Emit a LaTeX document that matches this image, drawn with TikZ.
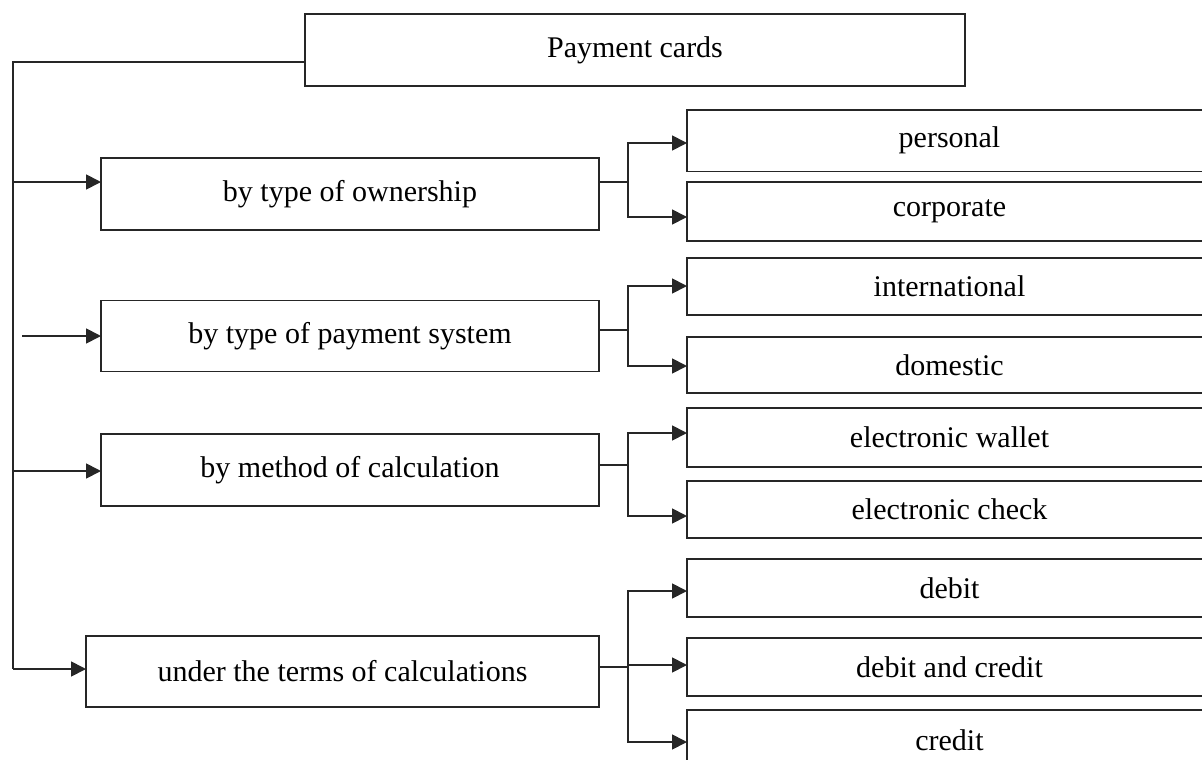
\documentclass[tikz,border=0pt]{standalone}
\usepackage{fontspec}
\setmainfont{Liberation Serif}
\usetikzlibrary{arrows.meta}
\begin{document}
\begin{tikzpicture}[x=1pt,y=-1pt,
  box/.style={draw=black!85,line width=1.8pt,inner sep=0pt,outer sep=0pt,
    font=\fontsize{30}{36}\selectfont,text=black},
  rbox/.style={box,minimum width=525pt},
  link/.style={draw=black!85,line width=1.8pt},
  arr/.style={link,-{Triangle[length=15pt,width=15pt]}}]
\useasboundingbox (0,0) rectangle (1202,760);
\clip (0,0) rectangle (1202,760);
% top
\node[box,minimum width=660pt,minimum height=72pt] (top) at (635,50) {Payment cards};
% categories
\node[box,minimum width=498pt,minimum height=72pt] (own) at (350,194) {by type of ownership};
\node[box,minimum width=498pt,minimum height=71pt] (sys) at (350,336) {by type of payment system};
\node[box,minimum width=498pt,minimum height=72pt] (calc) at (350,470) {by method of calculation};
\node[box,minimum width=513pt,minimum height=71pt] (terms) at (342.5,671.5) {under the terms of calculations};
% right boxes
\node[rbox,minimum height=61.5pt] (personal) at (949.5,140.75) {personal};
\node[rbox,minimum height=59pt] (corporate) at (949.5,211.5) {corporate};
\node[rbox,minimum height=57pt] (intl) at (949.5,286.5) {international};
\node[rbox,minimum height=56pt] (dom) at (949.5,365) {domestic};
\node[rbox,minimum height=59pt] (wallet) at (949.5,437.5) {electronic wallet};
\node[rbox,minimum height=57pt] (check) at (949.5,509.5) {electronic check};
\node[rbox,minimum height=58pt] (debit) at (949.5,588) {debit};
\node[rbox,minimum height=58pt] (dc) at (949.5,667) {debit and credit};
\node[rbox,minimum height=60pt] (credit) at (949.5,740) {credit};
% trunk coordinates
\coordinate (t0) at (12.7,62);
\coordinate (t1) at (12.7,182);
\coordinate (t3) at (12.7,471);
\coordinate (t4) at (12.7,669);
\coordinate (s2) at (22,336);
\draw[link] (top.west |- t0) -- (t0) -- (t4);
\draw[arr] (t1) -- (own.west |- t1);
\draw[arr] (s2) -- (sys.west |- s2);
\draw[arr] (t3) -- (calc.west |- t3);
\draw[arr] (t4) -- (terms.west |- t4);
% junctions
\coordinate (j1) at (628,182);
\coordinate (j2) at (628,330);
\coordinate (j3) at (628,465);
\coordinate (j4) at (628,667);
\coordinate (b11) at (628,143);
\coordinate (b12) at (628,217);
\coordinate (b21) at (628,286);
\coordinate (b22) at (628,366);
\coordinate (b31) at (628,433);
\coordinate (b32) at (628,516);
\coordinate (b41) at (628,591);
\coordinate (b42) at (628,665);
\coordinate (b43) at (628,742);
\draw[link] (own.east |- j1) -- (j1);
\draw[link] (sys.east |- j2) -- (j2);
\draw[link] (calc.east |- j3) -- (j3);
\draw[link] (terms.east |- j4) -- (j4);
\draw[arr] (j1) -- (b11) -- (personal.west |- b11);
\draw[arr] (j1) -- (b12) -- (corporate.west |- b12);
\draw[arr] (j2) -- (b21) -- (intl.west |- b21);
\draw[arr] (j2) -- (b22) -- (dom.west |- b22);
\draw[arr] (j3) -- (b31) -- (wallet.west |- b31);
\draw[arr] (j3) -- (b32) -- (check.west |- b32);
\draw[arr] (j4) -- (b41) -- (debit.west |- b41);
\draw[arr] (b42) -- (dc.west |- b42);
\draw[arr] (j4) -- (b43) -- (credit.west |- b43);
\end{tikzpicture}
\end{document}
